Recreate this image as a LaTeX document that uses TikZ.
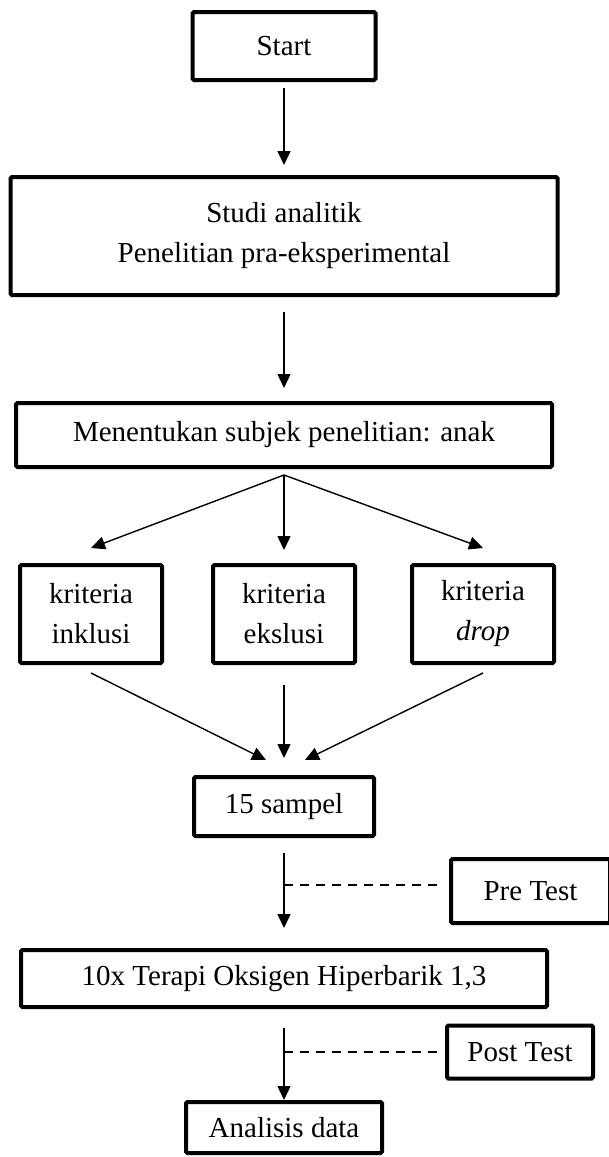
\documentclass[tikz,border=0pt]{standalone}
\usepackage{fontspec}
\setmainfont{Liberation Serif}
\usepackage{tikz}
\usetikzlibrary{arrows.meta, positioning, calc}
\tikzset{
    block/.style={
        rectangle,
        draw=black,
        line width=4pt,
        rounded corners=1.5pt,
        text centered,
        align=center,
        inner sep=0pt,
        font=\fontsize{29}{40}\selectfont
    },
    critblock/.style={
        block,
        minimum width=142pt,
        minimum height=98pt
    },
    testblock/.style={
        block,
        minimum height=54pt
    },
    connection/.style={
        draw=black,
        line width=1.4pt,
        -{Triangle[length=14pt,width=13pt]}
    },
    testlink/.style={
        draw=black,
        line width=1.4pt,
        dash pattern=on 9pt off 7pt
    }
}

\begin{document}
\begin{tikzpicture}[x=1pt, y=-1pt]
\useasboundingbox (0,0) rectangle (608,1157);
% Alur penelitian
\node[block, minimum width=183pt, minimum height=68pt] (start) at (284,46) {Start};
\node[block, below=93pt of start, minimum width=547pt, minimum height=118pt] (studi) {Studi analitik\\Penelitian pra-eksperimental};
\node[block, below=104pt of studi, minimum width=536pt, minimum height=64pt] (menentukan) {Menentukan subjek penelitian: anak};
\node[critblock, below=94pt of menentukan] (eksklusi) {kriteria\\ekslusi};
\node[critblock, left=47pt of eksklusi] (inklusi) {kriteria\\inklusi};
\node[critblock, right=53pt of eksklusi] (drop) {kriteria\\\textit{drop}};
\node[block, below=110pt of eksklusi, minimum width=180pt, minimum height=59pt] (sampel) {15 sampel};
\node[block, below=110pt of sampel, minimum width=526pt, minimum height=57pt] (terapi) {10x Terapi Oksigen Hiperbarik 1,3};
\node[block, below=91pt of terapi, minimum width=196pt, minimum height=51pt] (analisis) {Analisis data};
\node[testblock, minimum width=159pt, minimum height=64pt] (pretest) at (530.5,891) {Pre Test};
\node[testblock, minimum width=146pt, minimum height=53pt] (posttest) at (520,1052) {Post Test};
\coordinate (fan) at ([yshift=-6pt]menentukan.south);

\draw[connection, shorten <=6pt, shorten >=10pt] (start) -- (studi);
\draw[connection, shorten <=15pt, shorten >=13pt] (studi) -- (menentukan);
\draw[connection] (fan) -- ([yshift=15pt]inklusi.north);
\draw[connection] (fan) -- ([yshift=13pt]eksklusi.north);
\draw[connection] (fan) -- ([yshift=15pt]drop.north);
\draw[connection] ([yshift=-8pt]inklusi.south) -- ([xshift=-18pt,yshift=15pt]sampel.north);
\draw[connection, shorten <=20pt, shorten >=17pt] (eksklusi) -- (sampel);
\draw[connection] ([yshift=-8pt]drop.south) -- ([xshift=21pt,yshift=15pt]sampel.north);
\draw[connection, shorten <=15pt, shorten >=20pt] (sampel) -- (terapi);
\draw[connection, shorten <=19pt] (terapi) -- (analisis);
\draw[testlink, shorten <=12pt] ([yshift=6pt]pretest.west) -- ([yshift=6pt]pretest.west -| sampel.south);
\draw[testlink, shorten <=8pt] (posttest.west) -- (posttest.west -| terapi.south);
\end{tikzpicture}
\end{document}
